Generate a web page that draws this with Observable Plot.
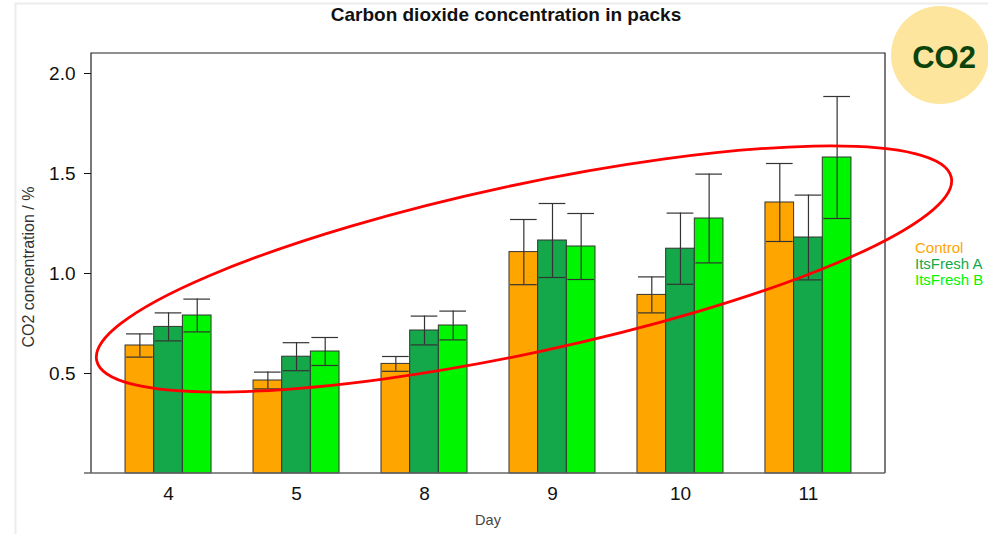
<!DOCTYPE html>
<html><head><meta charset="utf-8">
<script src="https://cdn.jsdelivr.net/npm/d3@7"></script>
<script src="https://cdn.jsdelivr.net/npm/@observablehq/plot@0.6"></script>
<style>body{margin:0;background:#fff;font-family:"Liberation Sans",Arial,sans-serif}#chart{position:relative;width:988px;height:534px}</style>
</head><body><div id="chart"></div><script>
const days = ["4","5","8","9","10","11"];
const series = ["Control","ItsFresh A","ItsFresh B"];
const colors = ["#FFA500","#14A84B","#00F500"];
const controlMean = [0.640, 0.465, 0.548, 1.107, 0.893, 1.355];
const controlErr  = [0.058, 0.042, 0.037, 0.163, 0.090, 0.195];
const freshAMean  = [0.733, 0.584, 0.715, 1.165, 1.124, 1.180];
const freshAErr   = [0.070, 0.070, 0.072, 0.185, 0.178, 0.212];
const freshBMean  = [0.790, 0.610, 0.740, 1.135, 1.275, 1.580];
const freshBErr   = [0.082, 0.070, 0.072, 0.165, 0.222, 0.305];
const yTicks = [0.5, 1.0, 1.5, 2.0];

const means = [controlMean, freshAMean, freshBMean];
const errs = [controlErr, freshAErr, freshBErr];
const rows = [];
days.forEach((d, i) => series.forEach((s, j) => rows.push({day: d, series: s, mean: means[j][i], err: errs[j][i]})));

const chart = Plot.plot({
  width: 988, height: 534,
  marginTop: 53, marginBottom: 61, marginLeft: 91, marginRight: 103,
  style: {fontFamily: "Liberation Sans, Arial, sans-serif", fontSize: "19px", color: "#111", background: "transparent", overflow: "visible"},
  fx: {domain: days, paddingInner: 0.328, paddingOuter: 0.266, round: false, axis: "bottom", label: null, tickSize: 0, tickPadding: 13},
  x: {domain: series, padding: 0, round: false, axis: null},
  y: {domain: [0, 2.1], ticks: yTicks, tickFormat: d3.format(".1f"), tickSize: 7, tickPadding: 9, label: null},
  color: {domain: series, range: colors},
  marks: [
    Plot.barY(rows, {fx: "day", x: "series", y: "mean", fill: "series", stroke: "#333", strokeWidth: 1}),
    Plot.ruleX(rows, {fx: "day", x: "series", y1: d => d.mean - d.err, y2: d => d.mean + d.err, stroke: "#333", strokeWidth: 1.2}),
    Plot.tickY(rows, {fx: "day", x: "series", y: d => d.mean + d.err, stroke: "#333", strokeWidth: 1.2, insetLeft: 1, insetRight: 1}),
    Plot.tickY(rows, {fx: "day", x: "series", y: d => d.mean - d.err, stroke: "#333", strokeWidth: 1.2, insetLeft: 1, insetRight: 1})
  ]
});
document.getElementById("chart").appendChild(chart);

const svg = d3.select(chart);
const fxScale = chart.scale("fx");
const fxR = fxScale.range;
const yR = chart.scale("y").range;
const x0 = fxR[0], x1 = fxR[1], yb = yR[0], yt = yR[1];

// move the facet-anchored y axis from the first bar group to the plot box edge
const shift = x0 - fxScale.apply(days[0]);
svg.selectAll('g[aria-label^="y-axis"]').each(function () {
  const t = this.getAttribute("transform") || "";
  this.setAttribute("transform", `translate(${shift},0) ${t}`);
});
svg.selectAll('g[aria-label="y-axis tick"]').attr("stroke", "#555");

// faint slide border
svg.insert("path", ":first-child").attr("d", "M15.5,534V3.5H988").attr("fill", "none").attr("stroke", "#ececec").attr("stroke-width", 2);

// plot box
svg.append("path").attr("d", `M${x0},${yb}V${yt}H${x1}V${yb}`).attr("fill", "none").attr("stroke", "#222").attr("stroke-width", 1.2);
svg.append("line").attr("x1", x0 - 7).attr("x2", x1).attr("y1", yb).attr("y2", yb).attr("stroke", "#666").attr("stroke-width", 1.5);

// title & labels
svg.append("text").attr("x", 506).attr("y", 21).attr("text-anchor", "middle").attr("font-weight", "bold").attr("font-size", 19).attr("fill", "#111").text("Carbon dioxide concentration in packs");
svg.append("text").attr("x", (x0 + x1) / 2).attr("y", 525).attr("text-anchor", "middle").attr("font-size", 14.5).attr("fill", "#444").text("Day");
svg.append("text").attr("transform", `translate(34,${(yb + yt) / 2 + 4}) rotate(-90)`).attr("text-anchor", "middle").attr("font-size", 16).attr("fill", "#333").text("CO2 concentration / %");

// legend
series.forEach((s, j) => {
  svg.append("text").attr("x", 915).attr("y", 253 + j * 16).attr("text-anchor", "start").attr("font-size", 15).attr("fill", colors[j]).text(s);
});

// annotation ellipse
svg.append("ellipse").attr("cx", 524).attr("cy", 269).attr("rx", 437).attr("ry", 84)
  .attr("transform", "rotate(-12.1,524,269)").attr("fill", "none").attr("stroke", "#FF0000").attr("stroke-width", 2.8);

// CO2 badge
svg.append("circle").attr("cx", 940).attr("cy", 55).attr("r", 49).attr("fill", "#FDE59D");
svg.append("text").attr("x", 944).attr("y", 68).attr("text-anchor", "middle").attr("font-weight", "bold").attr("font-size", 31).attr("fill", "#0B430B").text("CO2");
</script></body></html>
